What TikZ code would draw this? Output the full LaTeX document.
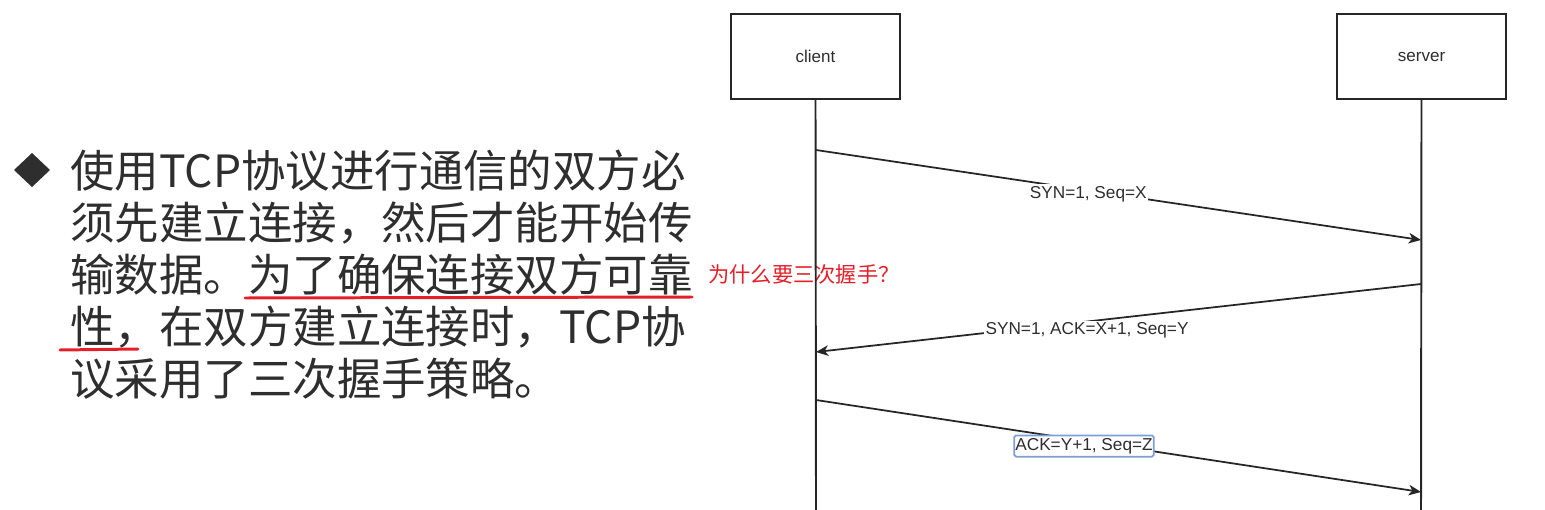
\documentclass[tikz,border=0pt]{standalone}
\usepackage{fontspec}
\setmainfont{Liberation Sans}
\newfontfamily\cjk{Noto Sans CJK SC}
\usetikzlibrary{arrows.meta}
\definecolor{linea}{HTML}{262626}
\definecolor{testo}{HTML}{2E2E2E}
\definecolor{rosso}{HTML}{E3202A}
\definecolor{selez}{HTML}{7F9ED6}

\begin{document}
\begin{tikzpicture}[x=0.02cm,y=-0.02cm,>={Stealth[length=7pt,width=6pt,inset=2pt]},
		entita/.style={draw=linea, line width=1.2pt, fill=white, minimum width=3.38cm,
			minimum height=1.7cm, font=\fontsize{9.7}{11}\selectfont, text=testo},
		vita/.style={draw=linea, line width=1.1pt},
		msg/.style={draw=linea, line width=1pt, ->},
		etichetta/.style={fill=white, inner xsep=1pt, inner ysep=1pt,
			font=\fontsize{9.8}{11}\selectfont, text=testo},
		riga/.style={anchor=base west, inner sep=0pt,
			font=\cjk\fontsize{25.3}{30}\selectfont, text=testo},
		sottolinea/.style={draw=rosso, line width=1.7pt, line cap=round},
		]
		\useasboundingbox (0,0) rectangle (1545,510);
		
		% ── Testo a sinistra ──
		\fill[testo] (32,153) -- (50,170) -- (32,187) -- (14,170) -- cycle;
		\foreach \t [count=\i] in {使用TCP协议进行通信的双方必,须先建立连接，然后才能开始传,
			输数据。为了确保连接双方可靠,性，在双方建立连接时，TCP协,议采用了三次握手策略。}
		\node[riga] (riga\i) at (70,{135+52*\i}) {\t};
		\draw[sottolinea] (245,298) -- (692,297);
		\draw[sottolinea] (60,350) -- (138,349);
		\node[anchor=west, inner sep=0pt, text=rosso, font=\cjk\fontsize{12.1}{14}\selectfont]
		(domanda) at (708,274) {为什么要三次握手？};
		
		% ===================== client / server =====================
		\node[entita] (client) at (815.5,56.5) {client};
		\node[entita] (server) at (1421.5,56.5) {server};
		\coordinate (cfondo) at (816,512);
		\coordinate (sfondo) at (1421,512);
		\draw[vita] (client.south) -- (cfondo);
		\draw[vita] (server.south) -- (sfondo);
		
		% ── punti dei messaggi ──
		\coordinate (c1) at (816,150);  \coordinate (s1) at (1421,240);
		\coordinate (s2) at (1421,284); \coordinate (c2) at (816,352);
		\coordinate (c3) at (816,400);  \coordinate (s3) at (1421,492);
		
		% ===================== tre messaggi =====================
		\draw[msg] (c1) -- node[etichetta, pos=0.45, yshift=-2pt] (syn) {SYN=1, Seq=X} (s1);
		\draw[msg] (s2) -- node[etichetta, pos=0.552, yshift=-5pt] (synack) {SYN=1, ACK=X+1, Seq=Y} (c2);
		\draw[msg] (c3) -- node[etichetta, pos=0.443, yshift=-3pt, draw=selez, rounded corners=1pt,
			inner xsep=0.6pt, inner ysep=1.6pt] (ack) {ACK=Y+1, Seq=Z} (s3);
		
\end{tikzpicture}
\end{document}
